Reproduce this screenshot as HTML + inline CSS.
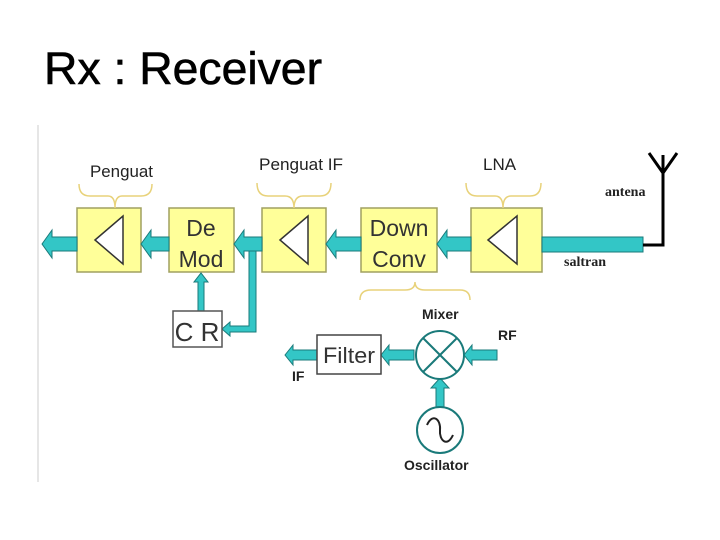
<!DOCTYPE html>
<html><head><style>
body{margin:0;background:#fff;}
svg{display:block}
</style></head><body>
<svg width="720" height="540" xmlns="http://www.w3.org/2000/svg" font-family="Liberation Sans, sans-serif">
<text x="44" y="84" font-size="45" fill="#000" stroke="#000" stroke-width="0.6" textLength="278" lengthAdjust="spacingAndGlyphs">Rx : Receiver</text>
<line x1="38" y1="125" x2="38" y2="482" stroke="#e6e6e6" stroke-width="2"/>
<!-- boxes -->
<g fill="#ffff99" stroke="#a0a060" stroke-width="1.5">
<rect x="77" y="208" width="64" height="64"/>
<rect x="169" y="208" width="65" height="64"/>
<rect x="262" y="208" width="64" height="64"/>
<rect x="361" y="208" width="76" height="64"/>
<rect x="471" y="208" width="71" height="64"/>
</g>
<g fill="#fff" stroke="#333" stroke-width="1.5">
<polygon points="95,240 123,216 123,264"/>
<polygon points="280,240 308,216 308,264"/>
<polygon points="488,240 517,216 517,264"/>
</g>
<g font-size="23" fill="#333" text-anchor="middle">
<text x="201" y="236">De</text><text x="201" y="267">Mod</text>
<text x="399" y="236">Down</text><text x="399" y="267">Conv</text>
</g>
<!-- main arrows -->
<g fill="#33c6c6" stroke="#1a7a7a" stroke-width="1">
<polygon points="42,244 52,230 52,237 77,237 77,251 52,251 52,258"/>
<polygon points="141,244 151,230 151,237 169,237 169,251 151,251 151,258"/>
<polygon points="234,244 244,230 244,237 262,237 262,251 244,251 244,258"/>
<polygon points="326,244 336,230 336,237 361,237 361,251 336,251 336,258"/>
<polygon points="437,244 447,230 447,237 471,237 471,251 447,251 447,258"/>
<rect x="542" y="237" width="101" height="15"/>
<!-- tap -->
<polygon points="249,251 256,251 256,332 230,332 230,336 222,329 230,322 230,326 249,326"/>
<polygon points="198,311 198,282 194,282 201,273 208,282 204,282 204,311"/>
<!-- lower -->
<polygon points="285,355 293,345 293,350 317,350 317,360 293,360 293,365"/>
<polygon points="381,355 389,345 389,350 414,350 414,360 389,360 389,365"/>
<polygon points="464,355 472,345 472,350 497,350 497,360 472,360 472,365"/>
<polygon points="436,407 436,388 431,388 440,378 449,388 444,388 444,407"/>
</g>
<!-- antenna -->
<polyline points="643,245 663,245 663,155" fill="none" stroke="#000" stroke-width="3"/>
<polyline points="649,153 663,173 677,153" fill="none" stroke="#000" stroke-width="3"/>
<!-- CR, filter -->
<rect x="173" y="311" width="49" height="36" fill="#fff" stroke="#555" stroke-width="1.5"/>
<text x="197" y="341" font-size="26" fill="#333" text-anchor="middle">C R</text>
<rect x="317" y="335" width="64" height="39" fill="#fff" stroke="#444" stroke-width="1.5"/>
<text x="349" y="363" font-size="22" fill="#333" text-anchor="middle" textLength="52" lengthAdjust="spacingAndGlyphs">Filter</text>
<!-- mixer -->
<circle cx="440" cy="355" r="24" fill="#fff" stroke="#1a7a7a" stroke-width="2"/>
<line x1="423" y1="338" x2="457" y2="372" stroke="#1a7a7a" stroke-width="2"/>
<line x1="457" y1="338" x2="423" y2="372" stroke="#1a7a7a" stroke-width="2"/>
<circle cx="440" cy="430" r="23" fill="#fff" stroke="#1a7a7a" stroke-width="2"/>
<path d="M427,425 C433,412 441,420 440,430 C439,440 447,448 453,435" fill="none" stroke="#222" stroke-width="2"/>
<!-- braces -->
<g fill="none" stroke="#e8d27a" stroke-width="1.5">
<path d="M79,184 Q79,196 90,196 L108,196 Q115,196 115,208 Q115,196 122,196 L141,196 Q152,196 152,184"/>
<path d="M257,183 Q257,196 268,196 L285,196 Q294,196 294,208 Q294,196 303,196 L320,196 Q331,196 331,183"/>
<path d="M466,183 Q466,196 477,196 L495,196 Q503,196 503,208 Q503,196 511,196 L530,196 Q541,196 541,183"/>
<path d="M360,300 Q360,290 371,290 L405,290 Q415,290 415,282 Q415,290 425,290 L460,290 Q470,290 470,300"/>
</g>
<!-- labels -->
<g font-size="17" fill="#222">
<text x="90" y="177" textLength="63" lengthAdjust="spacingAndGlyphs">Penguat</text>
<text x="259" y="170" textLength="84" lengthAdjust="spacingAndGlyphs">Penguat IF</text>
<text x="483" y="170">LNA</text>
</g>
<g font-family="Liberation Serif, serif" font-weight="bold" font-size="14" fill="#222">
<text x="605" y="196">antena</text>
<text x="564" y="266">saltran</text>
</g>
<g font-weight="bold" font-size="14" fill="#222">
<text x="422" y="319">Mixer</text>
<text x="498" y="340">RF</text>
<text x="292" y="381">IF</text>
<text x="404" y="470">Oscillator</text>
</g>
</svg>
</body></html>
